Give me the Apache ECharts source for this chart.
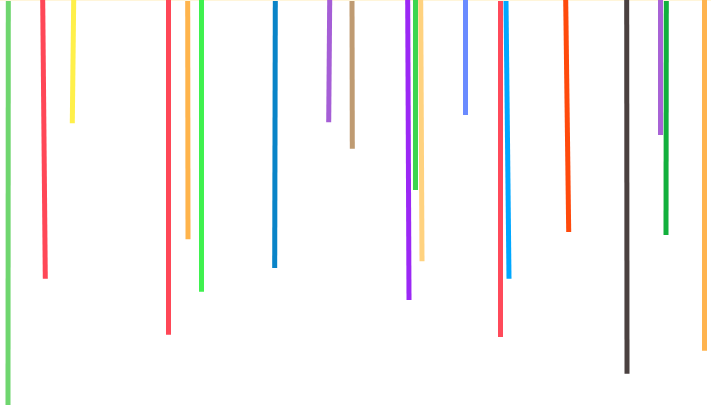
<!DOCTYPE html>
<html>
<head>
    <meta charset="utf-8"/>
    <title>lines</title>
    <script src="https://cdn.jsdelivr.net/npm/echarts@6/dist/echarts.min.js"></script>
    <style>
        html, body { margin: 0; padding: 0; background: #fff; }
        #main { width: 711px; height: 407px; }
    </style>
</head>
<body>
<div id="main"></div>
<script type="text/javascript">
    // each stroke: start (top) and end (bottom) point
    var topX    = [8.3, 42.7, 73.7, 168.7, 187.7, 201.3, 275.3, 329.7, 352, 407.7, 415.7, 420.7, 465.7, 500.7, 506, 565.7, 626.7, 660, 666.3, 704.3]
    var topY    = [1, 0, 0, 0, 1, 0, 1, 0, 1, 0, 0, 0, 0, 1, 1, 0, 0, 0, 1, 0]
    var bottomX = [8, 45.3, 72.3, 168.7, 188, 201.7, 274.7, 328.7, 352.3, 409, 415.7, 422, 465.7, 500.7, 509, 568.7, 627, 660, 666, 704.3]
    var bottomY = [405, 278.7, 123.3, 334.7, 239.3, 291.7, 268, 122.3, 148.7, 300, 190, 261.3, 115, 337, 278.7, 232, 373.7, 135, 235, 350.7]

    var palette = ['#6fd66f', '#ff4757', '#fff04a', '#ff4757', '#ffb44c', '#3ff14f', '#0984c8', '#a55ed6',
        '#bf9b72', '#9b28f5', '#3cd64f', '#ffd27f', '#6a8bff', '#ff4a5a', '#00a8ff', '#ff4a0c',
        '#4a4140', '#a863d6', '#12b03c', '#ffb44f']

    var strokes = []
    for (var i = 0; i < topX.length; i++) {
        strokes.push({
            coords: [[topX[i], topY[i]], [bottomX[i], bottomY[i]]],
            lineStyle: { color: palette[i] }
        })
    }

    var myChart = echarts.init(document.getElementById('main'))
    myChart.setOption({
        animation: false,
        backgroundColor: '#ffffff',
        grid: { left: 0, right: 0, top: 0, bottom: 0 },
        xAxis: {
            type: 'value', min: 0, max: 711, position: 'top',
            axisLine: { show: true, lineStyle: { color: '#fff5d9', width: 2 } },
            axisTick: { show: false }, axisLabel: { show: false }, splitLine: { show: false }
        },
        yAxis: {
            type: 'value', min: 0, max: 407, inverse: true, show: false
        },
        series: [{
            type: 'lines',
            coordinateSystem: 'cartesian2d',
            lineStyle: { width: 5, opacity: 1, curveness: 0 },
            data: strokes
        }]
    })
</script>
</body>
</html>
